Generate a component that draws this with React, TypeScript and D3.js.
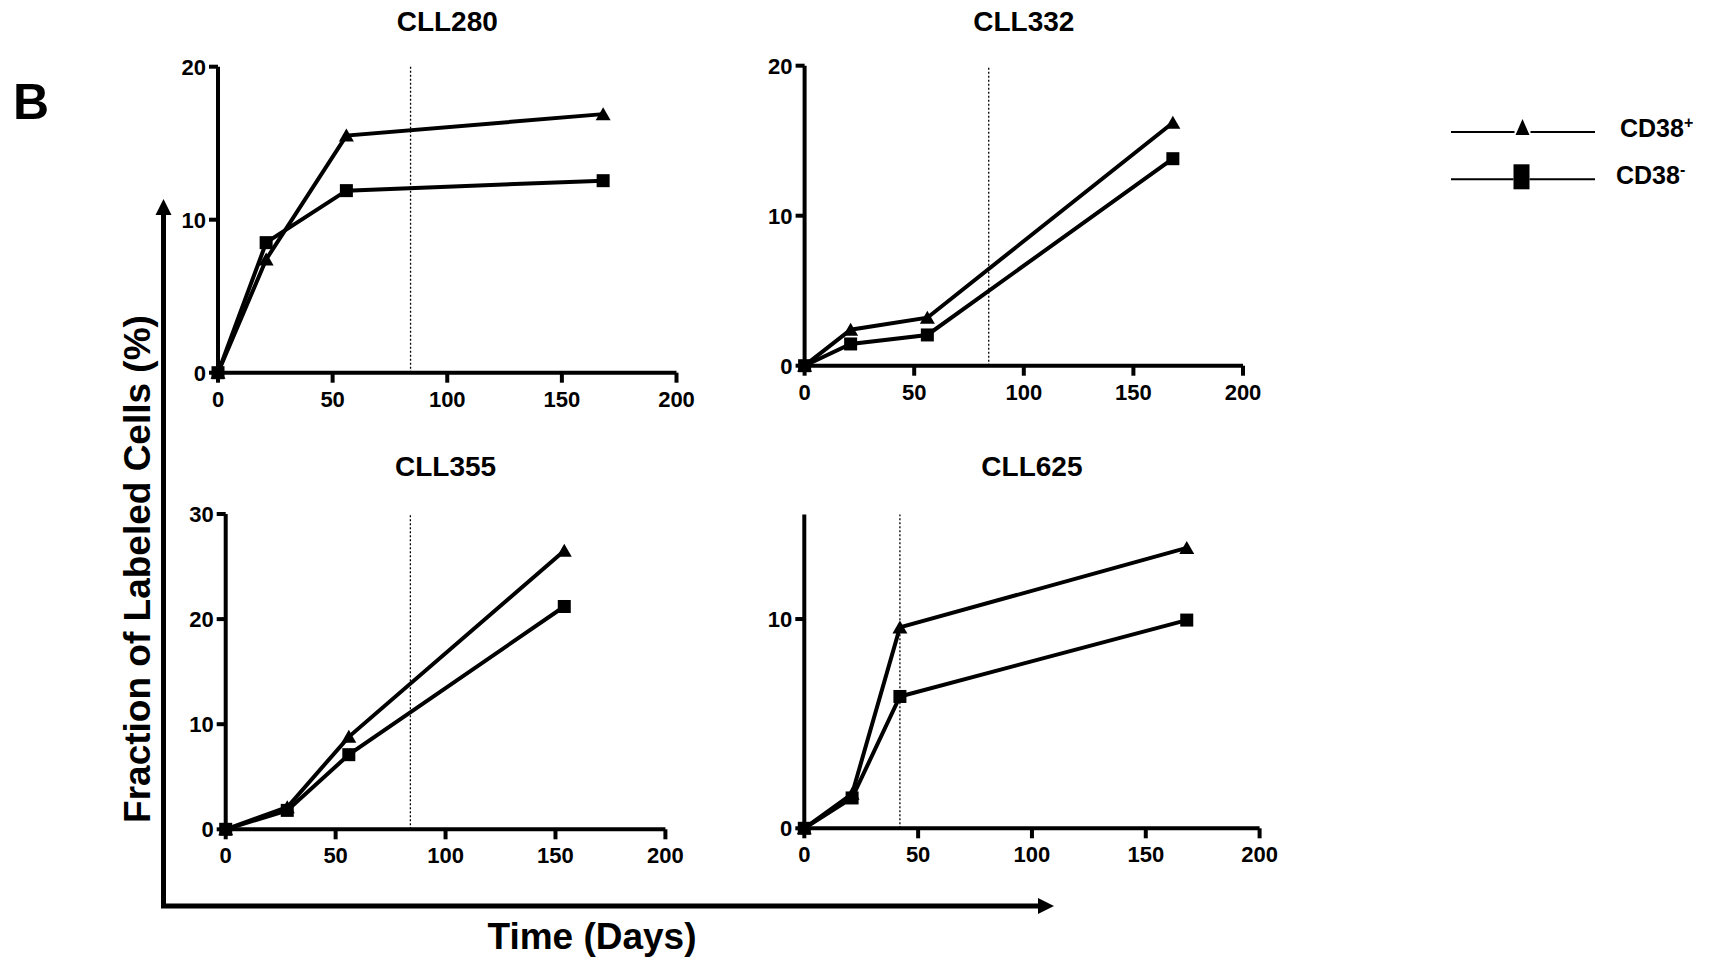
import React from "react";
import * as d3 from "d3";

// panel data
const titles = ["CLL280", "CLL332", "CLL355", "CLL625"];
const days = [
  [0, 21, 56, 168],
  [0, 21, 56, 168],
  [0, 28, 56, 154],
  [0, 21, 42, 168],
];
const cd38Pos = [
  [0, 7.4, 15.5, 16.9],
  [0, 2.4, 3.2, 16.2],
  [0, 2.1, 8.8, 26.5],
  [0, 1.65, 9.6, 13.4],
];
const cd38Neg = [
  [0, 8.5, 11.9, 12.55],
  [0, 1.45, 2.05, 13.8],
  [0, 1.8, 7.1, 21.2],
  [0, 1.45, 6.3, 9.95],
];
const yMax = [20, 20, 30, 15];
const yTicks = [
  [0, 10, 20],
  [0, 10, 20],
  [0, 10, 20, 30],
  [0, 10],
];
const xTicks = [0, 50, 100, 150, 200];
const cutoffDay = [84, 84, 84, 42];
const legendSigns = ["+", "-"];

// layout of the four plot areas (pixels)
const frames = [
  { left: 218, right: 676.5, bottom: 372.7, top: 66.7, titleY: 31 },
  { left: 804.6, right: 1243, bottom: 365.7, top: 65.7, titleY: 31 },
  { left: 225.7, right: 665.4, bottom: 829.3, top: 514, titleY: 476 },
  { left: 804.3, right: 1259.6, bottom: 828.3, top: 514.4, titleY: 476 },
];

const font = "'Liberation Sans', Arial, Helvetica, sans-serif";
const triangle = "M0,-7 L7.5,6 L-7.5,6 Z";

function Panel({ i }: { i: number }) {
  const f = frames[i];
  const x = d3.scaleLinear().domain([0, 200]).range([f.left, f.right]);
  const y = d3.scaleLinear().domain([0, yMax[i]]).range([f.bottom, f.top]);
  const line = d3
    .line<number>()
    .x((d, k) => x(days[i][k]))
    .y((d) => y(d));

  return (
    <g>
      <text
        x={(f.left + f.right) / 2}
        y={f.titleY}
        textAnchor="middle"
        fontSize={28}
        fontWeight="bold"
      >
        {titles[i]}
      </text>
      {/* dotted cut-off */}
      <line
        x1={x(cutoffDay[i])}
        x2={x(cutoffDay[i])}
        y1={y(0)}
        y2={y(yMax[i])}
        stroke="#000"
        strokeWidth={1.3}
        strokeDasharray="2,2"
      />
      {/* axes */}
      <path
        d={`M${x(0)},${y(yMax[i])} L${x(0)},${y(0)} L${x(200)},${y(0)}`}
        fill="none"
        stroke="#000"
        strokeWidth={4}
      />
      {yTicks[i].map((t) => (
        <g key={"y" + t}>
          <line x1={x(0) - 9} x2={x(0)} y1={y(t)} y2={y(t)} stroke="#000" strokeWidth={4} />
          <text
            x={x(0) - 12}
            y={y(t) + 8}
            textAnchor="end"
            fontSize={22}
            fontWeight="bold"
          >
            {t}
          </text>
        </g>
      ))}
      {xTicks.map((t) => (
        <g key={"x" + t}>
          <line x1={x(t)} x2={x(t)} y1={y(0)} y2={y(0) + 10} stroke="#000" strokeWidth={4} />
          <text
            x={x(t)}
            y={y(0) + 34}
            textAnchor="middle"
            fontSize={22}
            fontWeight="bold"
          >
            {t}
          </text>
        </g>
      ))}
      {/* series */}
      <path d={line(cd38Pos[i]) || ""} fill="none" stroke="#000" strokeWidth={4} />
      <path d={line(cd38Neg[i]) || ""} fill="none" stroke="#000" strokeWidth={4} />
      {cd38Pos[i].map((v, k) => (
        <path key={"p" + k} d={triangle} transform={`translate(${x(days[i][k])},${y(v)})`} fill="#000" />
      ))}
      {cd38Neg[i].map((v, k) => (
        <rect key={"n" + k} x={x(days[i][k]) - 6.5} y={y(v) - 6.5} width={13} height={13} fill="#000" />
      ))}
    </g>
  );
}

export default function App() {
  return (
    <svg
      width={1711}
      height={960}
      style={{ position: "absolute", left: 0, top: 0, background: "#fff" }}
      fontFamily={font}
    >
      <rect width={1711} height={960} fill="#fff" />
      <text x={13} y={119} fontSize={50} fontWeight="bold">
        B
      </text>

      {titles.map((t, i) => (
        <Panel key={t} i={i} />
      ))}

      {/* big axes with arrows */}
      <path d="M163.5,212 L163.5,906 L1040,906" fill="none" stroke="#000" strokeWidth={5} />
      <path d="M163.5,199 L171.5,215 L155.5,215 Z" fill="#000" />
      <path d="M1054,906 L1038,898 L1038,914 Z" fill="#000" />
      <text
        transform="translate(150,569) rotate(-90)"
        textAnchor="middle"
        fontSize={37}
        fontWeight="bold"
      >
        Fraction of Labeled Cells (%)
      </text>
      <text x={592} y={949} textAnchor="middle" fontSize={37} fontWeight="bold">
        Time (Days)
      </text>

      {/* legend */}
      {legendSigns.map((s, k) => {
        const ly = k === 0 ? 132 : 179.3;
        const mx = k === 0 ? 1522.5 : 1521.5;
        return (
          <g key={s}>
            <line x1={1451} x2={mx - 8} y1={ly} y2={ly} stroke="#000" strokeWidth={2} />
            <line x1={mx + 8} x2={1595} y1={ly} y2={ly} stroke="#000" strokeWidth={2} />
            {k === 0 ? (
              <path d="M0,-13 L7,3 L-7,3 Z" transform={`translate(${mx},${ly})`} fill="#000" />
            ) : (
              <rect x={mx - 8} y={ly - 15} width={16} height={25} fill="#000" />
            )}
            <text x={k === 0 ? 1620 : 1616} y={ly + 5} fontSize={25} fontWeight="bold">
              CD38
              <tspan fontSize={16} dy={-9}>
                {s}
              </tspan>
            </text>
          </g>
        );
      })}
    </svg>
  );
}
